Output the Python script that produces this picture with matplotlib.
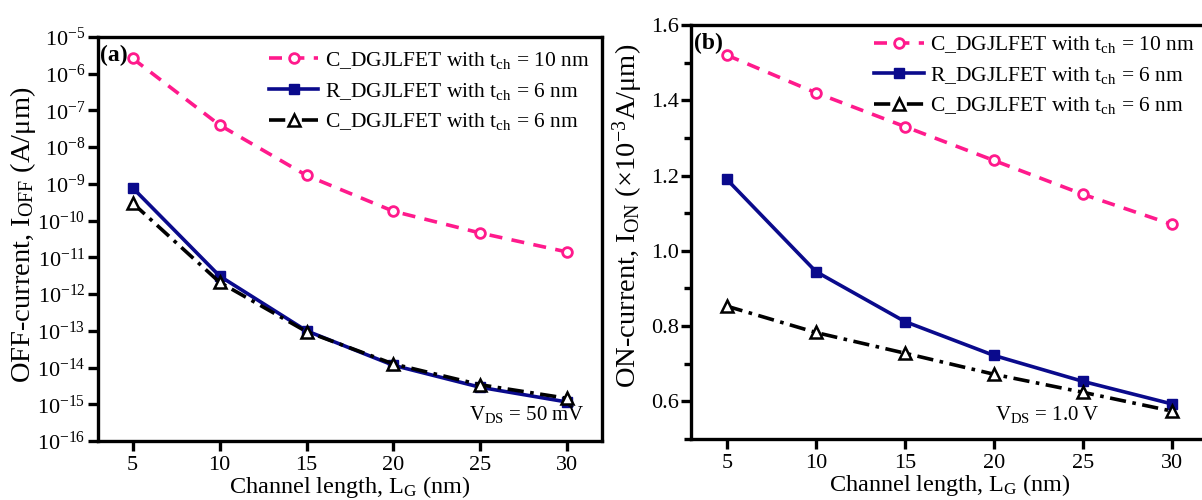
import matplotlib
matplotlib.use("Agg")
import matplotlib.pyplot as plt
from matplotlib.ticker import LogLocator, MultipleLocator, NullLocator

plt.rcParams['font.family'] = ['Liberation Serif', 'DejaVu Serif']
plt.rcParams['mathtext.fontset'] = 'custom'
plt.rcParams['mathtext.rm'] = 'Liberation Serif'
plt.rcParams['mathtext.it'] = 'Liberation Serif:italic'
plt.rcParams['mathtext.bf'] = 'Liberation Serif:bold'
plt.rcParams['axes.unicode_minus'] = False

# channel length (nm)
lg = [5, 10, 15, 20, 25, 30]

# (a) off-current, A/um
ioff_c10 = [2.6e-6, 4.0e-8, 1.7e-9, 1.8e-10, 4.6e-11, 1.4e-11]
ioff_r6 = [7.8e-10, 3.1e-12, 1.0e-13, 1.15e-14, 2.9e-15, 1.15e-15]
ioff_c6 = [3.0e-10, 2.1e-12, 9.5e-14, 1.25e-14, 3.4e-15, 1.45e-15]

# (b) on-current, x1e-3 A/um
ion_c10 = [1.52, 1.42, 1.33, 1.24, 1.15, 1.07]
ion_r6 = [1.19, 0.945, 0.812, 0.722, 0.653, 0.593]
ion_c6 = [0.853, 0.783, 0.728, 0.672, 0.624, 0.574]

labels = [r'C_DGJLFET with t$_\mathrm{ch}$ = 10 nm',
          r'R_DGJLFET with t$_\mathrm{ch}$ = 6 nm',
          r'C_DGJLFET with t$_\mathrm{ch}$ = 6 nm']

pink = '#FF1A8C'
navy = '#0A0A8C'
tick_fs = 16
leg_fs = 15.5
xlab_fs = 17.5
ylab_fs = 20.5

fig = plt.figure(figsize=(12.02, 5.0), dpi=100)
ax1 = fig.add_axes([0.0815, 0.118, 0.4193, 0.808])
ax2 = fig.add_axes([0.575, 0.122, 0.4298, 0.828])


def draw(ax, c10, r6, c6, leg_anchor):
    ax.plot(lg, c10, color=pink, ls=(0, (3.6, 2.6)), lw=2.6, marker='o', ms=7,
            mfc='white', mec=pink, mew=2, label=labels[0])
    ax.plot(lg, r6, color=navy, ls='-', lw=2.6, marker='s', ms=7,
            mfc=navy, mec=navy, label=labels[1])
    ax.plot(lg, c6, color='black', ls=(0, (4.5, 1.8, 1, 1.8)), lw=2.6,
            marker='^', ms=8.5, mfc='white', mec='black', mew=1.8,
            label=labels[2])
    ax.set_xlim(3, 32)
    ax.set_xticks(lg)
    for s in ax.spines.values():
        s.set_linewidth(2.4)
    ax.tick_params(which='both', direction='out', width=2.4, labelsize=tick_fs,
                   top=False, right=False, pad=2)
    ax.tick_params(axis='x', pad=4)
    ax.tick_params(which='major', length=7)
    ax.tick_params(which='minor', length=5)
    ax.set_xlabel(r'Channel length, L$_\mathrm{G}$ (nm)', fontsize=xlab_fs,
                  labelpad=-1)
    ax.legend(loc='upper right', bbox_to_anchor=leg_anchor, fontsize=leg_fs,
              frameon=False, handlelength=2.3, handletextpad=0.3,
              labelspacing=0.45, borderaxespad=0.0, borderpad=0.0)


draw(ax1, ioff_c10, ioff_r6, ioff_c6, (0.975, 0.968))
ax1.set_yscale('log')
ax1.set_ylim(1e-16, 1e-5)
ax1.yaxis.set_major_locator(LogLocator(base=10, numticks=20))
ax1.yaxis.set_minor_locator(NullLocator())
ax1.set_ylabel(r'OFF-current, I$_\mathrm{OFF}$ (A/μm)', fontsize=ylab_fs)
ax1.yaxis.set_label_coords(-0.118, 0.51)
ax1.text(0.005, 0.955, '(a)', transform=ax1.transAxes, fontsize=17,
         fontweight='bold', va='center', ha='left')
ax1.text(0.965, 0.04, r'V$_\mathrm{DS}$ = 50 mV', transform=ax1.transAxes,
         fontsize=15, ha='right', va='bottom')

draw(ax2, ion_c10, ion_r6, ion_c6, (0.975, 0.978))
ax2.set_ylim(0.5, 1.6)
ax2.yaxis.set_major_locator(MultipleLocator(0.2))
ax2.yaxis.set_minor_locator(MultipleLocator(0.1))
ax2.set_yticks([0.6, 0.8, 1.0, 1.2, 1.4, 1.6])
ax2.set_yticklabels(['0.6', '0.8', '1.0', '1.2', '1.4', '1.6'])
ax2.set_ylabel(r'ON-current, I$_\mathrm{ON}$ (×10$^{-3}$A/μm)',
               fontsize=ylab_fs)
ax2.yaxis.set_label_coords(-0.09, 0.54)
ax2.text(0.006, 0.955, '(b)', transform=ax2.transAxes, fontsize=17,
         fontweight='bold', va='center', ha='left')
ax2.text(23.0, 0.566, r'V$_\mathrm{DS}$ = 1.0 V', fontsize=15,
         ha='center', va='center')

fig.savefig('out.png', dpi=100)
